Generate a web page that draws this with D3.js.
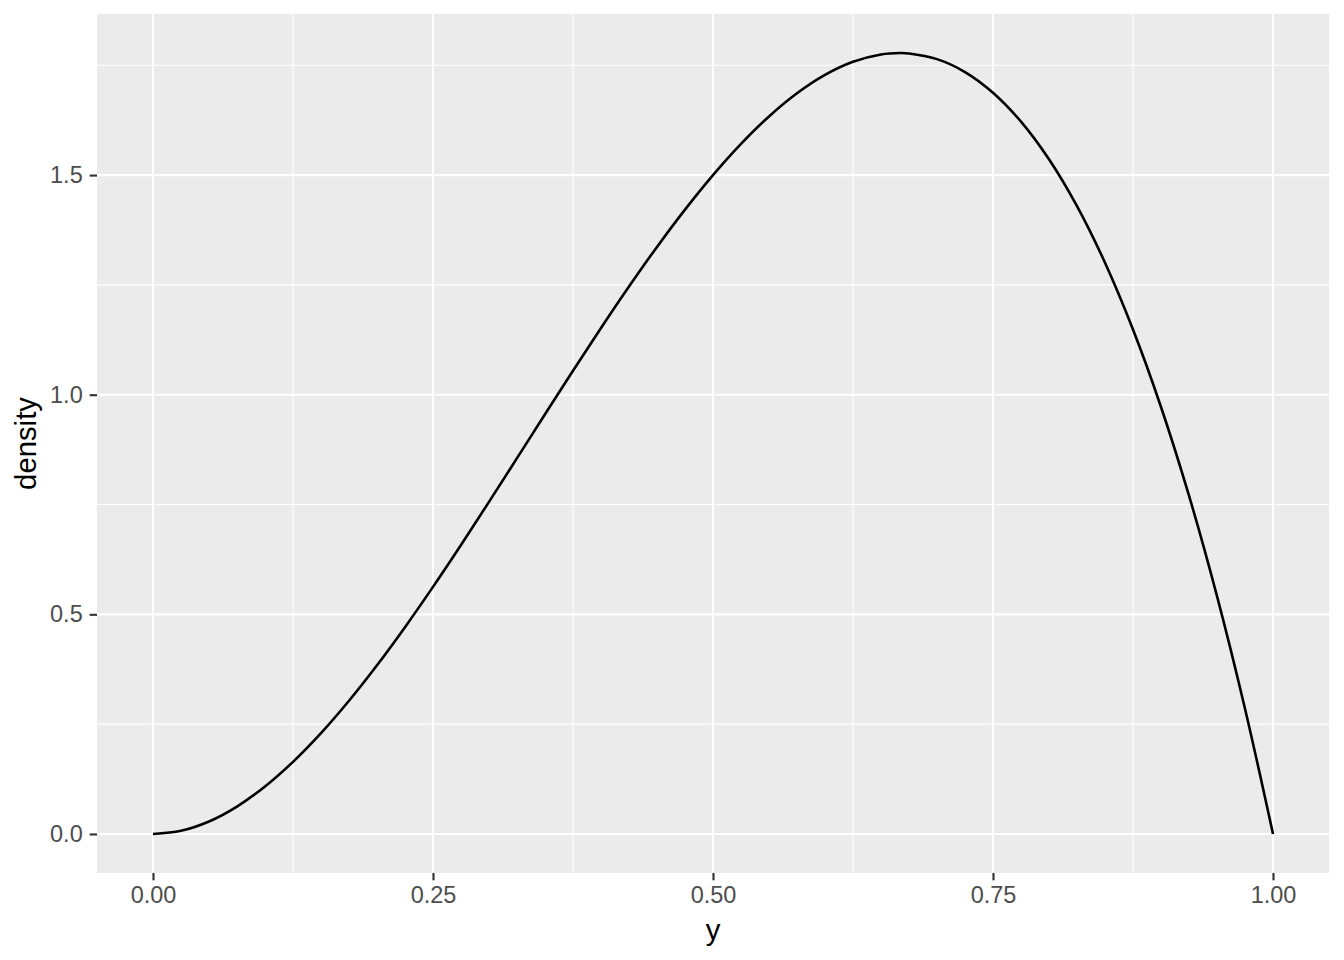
<!DOCTYPE html>
<html>
<head>
<meta charset="utf-8">
<script src="https://cdn.jsdelivr.net/npm/d3@7"></script>
<style>
  body { margin: 0; background: #fff; }
  text { font-family: "Liberation Sans", Arial, sans-serif; }
</style>
</head>
<body>
<svg width="1344" height="960"></svg>
<script>
// values
var yVals = [0, 0.025, 0.05, 0.075, 0.1, 0.125, 0.15, 0.175, 0.2, 0.225, 0.25, 0.275, 0.3, 0.325, 0.35,
  0.375, 0.4, 0.425, 0.45, 0.475, 0.5, 0.525, 0.55, 0.575, 0.6, 0.625, 0.65, 0.667, 0.675, 0.7, 0.725,
  0.75, 0.775, 0.8, 0.825, 0.85, 0.875, 0.9, 0.925, 0.95, 0.975, 1];
var density = [0, 0.0073, 0.0285, 0.0624, 0.108, 0.1641, 0.2295, 0.3032, 0.384, 0.4708, 0.5625, 0.6579,
  0.756, 0.8556, 0.9555, 1.0547, 1.152, 1.2463, 1.3365, 1.4214, 1.5, 1.5711, 1.6335, 1.6862, 1.728,
  1.7578, 1.7745, 1.7778, 1.7769, 1.764, 1.7346, 1.6875, 1.6217, 1.536, 1.4293, 1.3005, 1.1484, 0.972,
  0.7701, 0.5415, 0.2852, 0];
var xTicks = [0, 0.25, 0.5, 0.75, 1];
var xMinor = [0.125, 0.375, 0.625, 0.875];
var yTicks = [0, 0.5, 1, 1.5];
var yMinor = [0.25, 0.75, 1.25, 1.75];

var margin = {top: 14, right: 15, bottom: 87, left: 97},
    width = 1344 - margin.left - margin.right,
    height = 960 - margin.top - margin.bottom;

var svg = d3.select("svg")
  .append("g").attr("transform", "translate(" + margin.left + "," + margin.top + ")");

var xScale = d3.scaleLinear().domain([-0.05, 1.05]).range([0, width]);
var yScale = d3.scaleLinear().domain([-0.0889, 1.8667]).range([height, 0]);

svg.append("rect").attr("width", width).attr("height", height).attr("fill", "#EBEBEB");

// minor grid
svg.selectAll(".vminor").data(xMinor).enter().append("line")
  .attr("x1", function(d) { return xScale(d); }).attr("x2", function(d) { return xScale(d); })
  .attr("y1", 0).attr("y2", height).attr("stroke", "#fff").attr("stroke-width", 1.07);
svg.selectAll(".hminor").data(yMinor).enter().append("line")
  .attr("y1", function(d) { return yScale(d); }).attr("y2", function(d) { return yScale(d); })
  .attr("x1", 0).attr("x2", width).attr("stroke", "#fff").attr("stroke-width", 1.07);
// major grid
svg.selectAll(".vmajor").data(xTicks).enter().append("line")
  .attr("x1", function(d) { return xScale(d); }).attr("x2", function(d) { return xScale(d); })
  .attr("y1", 0).attr("y2", height).attr("stroke", "#fff").attr("stroke-width", 2.13);
svg.selectAll(".hmajor").data(yTicks).enter().append("line")
  .attr("y1", function(d) { return yScale(d); }).attr("y2", function(d) { return yScale(d); })
  .attr("x1", 0).attr("x2", width).attr("stroke", "#fff").attr("stroke-width", 2.13);

var pts = yVals.map(function(v, i) { return [v, density[i]]; });
svg.append("path").datum(pts)
  .attr("fill", "none").attr("stroke", "#000").attr("stroke-width", 2.6)
  .attr("d", d3.line()
    .x(function(d) { return xScale(d[0]); })
    .y(function(d) { return yScale(d[1]); })
    .curve(d3.curveCatmullRom));

var xAxis = svg.append("g").attr("transform", "translate(0," + height + ")")
  .call(d3.axisBottom(xScale).tickValues(xTicks).tickFormat(d3.format(".2f")).tickSize(7.3).tickPadding(6));
var yAxis = svg.append("g")
  .call(d3.axisLeft(yScale).tickValues(yTicks).tickFormat(d3.format(".1f")).tickSize(7.3).tickPadding(7));

[xAxis, yAxis].forEach(function(a) {
  a.select(".domain").remove();
  a.selectAll(".tick line").attr("stroke", "#333333").attr("stroke-width", 2.13);
  a.selectAll(".tick text").attr("fill", "#4D4D4D").style("font-size", "23.5px")
    .style("font-family", "'Liberation Sans', Arial, sans-serif");
});

svg.append("text").attr("x", width / 2).attr("y", 940 - margin.top)
  .attr("text-anchor", "middle").style("font-size", "29.3px").attr("fill", "#000").text("y");
svg.append("text").attr("transform", "translate(" + (36 - margin.left) + "," + (height / 2) + ") rotate(-90)")
  .attr("text-anchor", "middle").style("font-size", "29.3px").attr("fill", "#000").text("density");
</script>
</body>
</html>
